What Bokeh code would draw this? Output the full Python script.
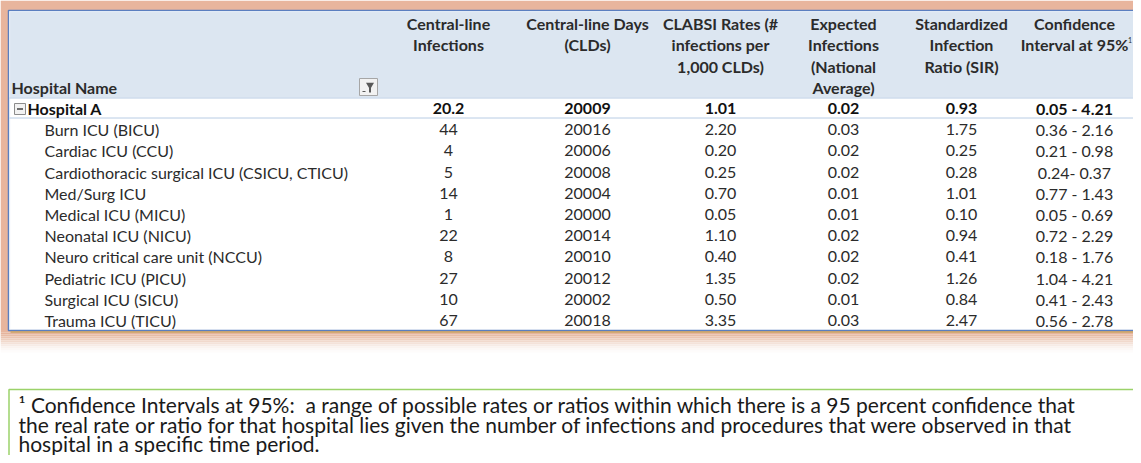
from bokeh.plotting import figure
from bokeh.models import Range1d, ColumnDataSource
from bokeh.core.properties import value
from bokeh.embed import file_html
from bokeh.resources import INLINE

# ---------------- data ----------------
units = ["Burn ICU (BICU)", "Cardiac ICU (CCU)", "Cardiothoracic surgical ICU (CSICU, CTICU)",
         "Med/Surg ICU", "Medical ICU (MICU)", "Neonatal ICU (NICU)",
         "Neuro critical care unit (NCCU)", "Pediatric ICU (PICU)", "Surgical ICU (SICU)",
         "Trauma ICU (TICU)"]
infections = [44, 4, 5, 14, 1, 22, 8, 27, 10, 67]
cld_days = [20016, 20006, 20008, 20004, 20000, 20014, 20010, 20012, 20002, 20018]
clabsi_rates = [2.20, 0.20, 0.25, 0.70, 0.05, 1.10, 0.40, 1.35, 0.50, 3.35]
expected = [0.03, 0.02, 0.02, 0.01, 0.01, 0.02, 0.02, 0.02, 0.01, 0.03]
sir = [1.75, 0.25, 0.28, 1.01, 0.10, 0.94, 0.41, 1.26, 0.84, 2.47]
ci95 = ["0.36 - 2.16", "0.21 - 0.98", "0.24- 0.37", "0.77 - 1.43", "0.05 - 0.69",
        "0.72 - 2.29", "0.18 - 1.76", "1.04 - 4.21", "0.41 - 2.43", "0.56 - 2.78"]

hospital = "Hospital A"
hosp_infections = 20.2
hosp_cld = 20009
hosp_rate = 1.01
hosp_expected = 0.02
hosp_sir = 0.93
hosp_ci = "0.05 - 4.21"

headers = [["Central-line", "Infections"],
           ["Central-line Days", "(CLDs)"],
           ["CLABSI Rates (#", "infections per", "1,000 CLDs)"],
           ["Expected", "Infections", "(National", "Average)"],
           ["Standardized", "Infection", "Ratio (SIR)"],
           ["Confidence", "Interval at 95%"]]
name_header = "Hospital Name"

footnote = ["\u00b9 Confidence Intervals at 95%:\u00a0 a range of possible rates or ratios within which there is a 95 percent confidence that",
            "the real rate or ratio for that hospital lies given the number of infections and procedures that were observed in that",
            "hospital in a specific time period."]

# ---------------- layout ----------------
W, H = 1133, 455
p = figure(width=W, height=H, output_backend="svg", toolbar_location=None,
           x_range=Range1d(0, W), y_range=Range1d(H, 0),
           min_border=0, outline_line_color=None)
p.axis.visible = False
p.grid.visible = False
p.background_fill_color = "white"
p.border_fill_color = "white"

FONT = value("Lato")
TXT = "#2B2B2B"
FS = "16px"

col_x = [448, 587, 720, 843, 961, 1074]
head_y0, head_dy = 23, 21.3
row0_y = 108
row_dy = 21.2
tbl_left, tbl_right, tbl_top, tbl_bot = 8, 1145, 10, 330

# peach frame + shadow (polygons)
p.patch(x=[0, 1145, 1145, 0], y=[0, 0, tbl_bot + 2, tbl_bot + 2], fill_color="#E8B59D", line_color=None)
shade = ["#E6B49C", "#E8BCA6", "#EBC5B2", "#EECFBF", "#F1D9CC", "#F4E2D9", "#F7EBE5", "#FAF3EF", "#FCF8F6", "#FEFCFB"]
sx, sy = [], []
for i in range(len(shade)):
    t, b = tbl_bot + 2 + i * 2, tbl_bot + 4 + i * 2
    sx.append([0, 1145, 1145, 0])
    sy.append([t, t, b, b])
p.patches(xs=sx, ys=sy, fill_color=shade, line_color=None)

# table body
p.patch(x=[tbl_left, tbl_right, tbl_right, tbl_left], y=[tbl_top, tbl_top, tbl_bot, tbl_bot],
        fill_color="white", line_color="#5B7FC0", line_width=1.5)
p.patch(x=[tbl_left + 1.5, tbl_right, tbl_right, tbl_left + 1.5], y=[tbl_top + 1.5, tbl_top + 1.5, 97, 97],
        fill_color="#DCE6F1", line_color=None)
p.segment(x0=tbl_left + 1.2, x1=tbl_left + 1.2, y0=tbl_top + 1, y1=tbl_bot - 1,
          line_color="#E6EEF8", line_width=1)
p.segment(x0=tbl_left + 1, x1=tbl_right, y0=tbl_top + 1.2, y1=tbl_top + 1.2,
          line_color="#E6EEF8", line_width=1)
p.segment(x0=tbl_left + 2, x1=tbl_right, y0=tbl_bot + 1.6, y1=tbl_bot + 1.6,
          line_color="#C8A060", line_width=1.5)
# row separators
p.segment(x0=tbl_left + 1, x1=tbl_right, y0=97.5, y1=97.5, line_color="#B8CCE4", line_width=1)
p.segment(x0=tbl_left + 1, x1=tbl_right, y0=117.5, y1=117.5, line_color="#B8CCE4", line_width=1)

# header texts
hx, hy, ht = [], [], []
for cx, lines in zip(col_x, headers):
    for j, t in enumerate(lines):
        hx.append(cx)
        hy.append(head_y0 + j * head_dy)
        ht.append(t)
p.text(x="x", y="y", text="t", source=ColumnDataSource(dict(x=hx, y=hy, t=ht)),
       text_font=FONT, text_font_size=FS, text_font_style="bold", text_color=TXT,
       text_align="center", text_baseline="middle")
p.text(x=[1127.5], y=[39], text=["1"], text_font=FONT, text_font_size="7px",
       text_color=TXT, text_align="left", text_baseline="middle")
p.text(x=[11], y=[head_y0 + 3 * head_dy], text=[name_header], text_font=FONT,
       text_font_size=FS, text_font_style="bold", text_color=TXT,
       text_align="left", text_baseline="middle")

# filter button
p.patch(x=[359, 377, 377, 359], y=[78, 78, 95, 95], fill_color="#F2F2F2", line_color="#A6A6A6", line_width=1)
p.scatter(x=[369.5], y=[84.5], marker="inverted_triangle", size=8, fill_color="#595959", line_color=None)
p.segment(x0=369.5, x1=369.5, y0=86, y1=92, line_color="#595959", line_width=2)
p.segment(x0=362, x1=365, y0=91, y1=91, line_color="#595959", line_width=1)

# collapse icon
p.patch(x=[14, 25, 25, 14], y=[103, 103, 114, 114], fill_color="#F2F2F2", line_color="#8C8C8C", line_width=1)
p.segment(x0=16.5, x1=22.5, y0=108.5, y1=108.5, line_color="#404040", line_width=1.3)

# hospital summary row
p.text(x=[27], y=[row0_y], text=[hospital], text_font=FONT, text_font_size=FS,
       text_font_style="bold", text_color="#111111", text_align="left", text_baseline="middle")
sum_vals = [f"{hosp_infections:.1f}", f"{hosp_cld}", f"{hosp_rate:.2f}",
            f"{hosp_expected:.2f}", f"{hosp_sir:.2f}", hosp_ci]
p.text(x=col_x, y=[row0_y] * 6, text=sum_vals, text_font=FONT, text_font_size=FS,
       text_font_style="bold", text_color="#111111", text_align="center", text_baseline="middle")

# unit rows
ys = [row0_y + row_dy * (i + 1) for i in range(len(units))]
p.text(x=[44] * len(units), y=ys, text=units, text_font=FONT, text_font_size=FS,
       text_color=TXT, text_align="left", text_baseline="middle")
cols = [[str(v) for v in infections], [str(v) for v in cld_days],
        [f"{v:.2f}" for v in clabsi_rates], [f"{v:.2f}" for v in expected],
        [f"{v:.2f}" for v in sir], ci95]
bx, by, bt = [], [], []
for cx, vals in zip(col_x, cols):
    for y, v in zip(ys, vals):
        bx.append(cx)
        by.append(y)
        bt.append(v)
p.text(x="x", y="y", text="t", source=ColumnDataSource(dict(x=bx, y=by, t=bt)),
       text_font=FONT, text_font_size=FS, text_color=TXT,
       text_align="center", text_baseline="middle")

# footnote box
p.patch(x=[8.5, 1140, 1140, 8.5], y=[389, 389, 470, 470], fill_color="white",
        line_color="#9BD26A", line_width=1.5)
p.text(x=[18] * 3, y=[403.5, 423.5, 443], text=footnote, text_font=FONT,
       text_font_size="21px", text_color="#1A1A1A", text_align="left", text_baseline="middle")

open("out.html", "w").write(file_html(p, INLINE))
